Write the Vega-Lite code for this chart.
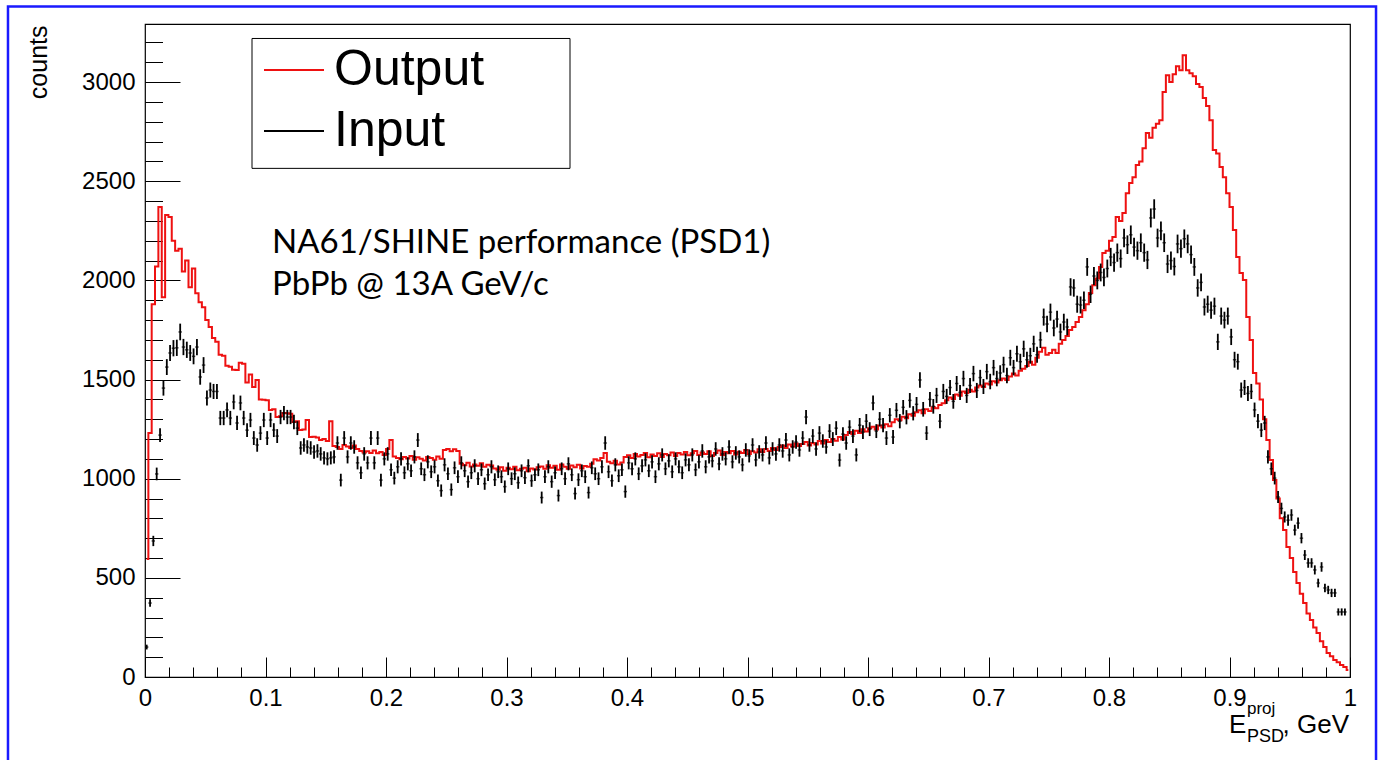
{
"$schema":"https://vega.github.io/schema/vega-lite/v6.json",
"width":1205,"height":653,
"autosize":{"type":"none"},
"padding":{"left":145,"top":24,"right":28,"bottom":83},
"background":"white",
"config":{"view":{"stroke":"#000","strokeWidth":1.2},"font":"Liberation Sans",
"axis":{"labelFont":"Liberation Sans","labelFontSize":24,"labelColor":"#000","tickColor":"#000","tickWidth":1,"domain":false,"grid":false,"titleFont":"Liberation Sans","titleFontWeight":"normal","titleColor":"#000"}},
"data":{"values":[
{"x":0.0014,"o":595,"i":151,"e":12},{"x":0.0042,"o":1230,"i":373,"e":19},{"x":0.0069,"o":1880,"i":686,"e":26},{"x":0.0097,"o":2070,"i":1024,"e":32},{"x":0.0125,"o":2370,"i":1220,"e":35},{"x":0.0153,"o":1915,"i":1457,"e":38},{"x":0.0181,"o":2330,"i":1563,"e":40},{"x":0.0208,"o":2320,"i":1634,"e":40},{"x":0.0236,"o":2200,"i":1658,"e":41},{"x":0.0264,"o":2150,"i":1660,"e":41},{"x":0.0292,"o":2160,"i":1740,"e":42},{"x":0.0319,"o":2045,"i":1664,"e":41},{"x":0.0347,"o":2100,"i":1650,"e":41},{"x":0.0375,"o":1965,"i":1634,"e":40},{"x":0.0403,"o":2060,"i":1617,"e":40},{"x":0.0431,"o":1935,"i":1664,"e":41},{"x":0.0458,"o":1890,"i":1513,"e":39},{"x":0.0486,"o":1865,"i":1573,"e":40},{"x":0.0514,"o":1800,"i":1407,"e":38},{"x":0.0542,"o":1765,"i":1447,"e":38},{"x":0.0569,"o":1710,"i":1440,"e":38},{"x":0.0597,"o":1690,"i":1440,"e":38},{"x":0.0625,"o":1625,"i":1306,"e":36},{"x":0.0653,"o":1620,"i":1306,"e":36},{"x":0.0681,"o":1570,"i":1347,"e":37},{"x":0.0708,"o":1565,"i":1306,"e":36},{"x":0.0736,"o":1550,"i":1387,"e":37},{"x":0.0764,"o":1548,"i":1281,"e":36},{"x":0.0792,"o":1585,"i":1382,"e":37},{"x":0.0819,"o":1580,"i":1306,"e":36},{"x":0.0847,"o":1485,"i":1245,"e":35},{"x":0.0875,"o":1525,"i":1296,"e":36},{"x":0.0903,"o":1462,"i":1205,"e":35},{"x":0.0931,"o":1498,"i":1170,"e":34},{"x":0.0958,"o":1400,"i":1230,"e":35},{"x":0.0986,"o":1398,"i":1296,"e":36},
{"x":0.1014,"o":1395,"i":1205,"e":35},{"x":0.1042,"o":1347,"i":1296,"e":36},{"x":0.1069,"o":1350,"i":1245,"e":35},{"x":0.1097,"o":1311,"i":1215,"e":35},{"x":0.1125,"o":1315,"i":1311,"e":36},{"x":0.1153,"o":1331,"i":1331,"e":36},{"x":0.1181,"o":1330,"i":1311,"e":36},{"x":0.1208,"o":1328,"i":1311,"e":36},{"x":0.1236,"o":1286,"i":1286,"e":36},{"x":0.1264,"o":1290,"i":1255,"e":35},{"x":0.1292,"o":1245,"i":1155,"e":34},{"x":0.1319,"o":1248,"i":1170,"e":34},{"x":0.1347,"o":1296,"i":1160,"e":34},{"x":0.1375,"o":1210,"i":1155,"e":34},{"x":0.1403,"o":1212,"i":1135,"e":34},{"x":0.1431,"o":1208,"i":1140,"e":34},{"x":0.1458,"o":1195,"i":1125,"e":34},{"x":0.1486,"o":1200,"i":1105,"e":33},{"x":0.1514,"o":1190,"i":1100,"e":33},{"x":0.1542,"o":1290,"i":1105,"e":33},{"x":0.1569,"o":1165,"i":1110,"e":33},{"x":0.1597,"o":1160,"i":1180,"e":34},{"x":0.1625,"o":1150,"i":993,"e":32},{"x":0.1653,"o":1170,"i":1205,"e":35},{"x":0.1681,"o":1162,"i":1110,"e":33},{"x":0.1708,"o":1155,"i":1180,"e":34},{"x":0.1736,"o":1168,"i":1160,"e":34},{"x":0.1764,"o":1150,"i":1080,"e":33},{"x":0.1792,"o":1140,"i":1030,"e":32},{"x":0.1819,"o":1132,"i":1125,"e":34},{"x":0.1847,"o":1138,"i":1080,"e":33},{"x":0.1875,"o":1130,"i":1205,"e":35},{"x":0.1903,"o":1142,"i":1080,"e":33},{"x":0.1931,"o":1128,"i":1205,"e":35},{"x":0.1958,"o":1135,"i":993,"e":32},{"x":0.1986,"o":1120,"i":1100,"e":33},
{"x":0.2014,"o":1150,"i":1125,"e":34},{"x":0.2042,"o":1195,"i":1045,"e":32},{"x":0.2069,"o":1112,"i":1003,"e":32},{"x":0.2097,"o":1105,"i":1060,"e":33},{"x":0.2125,"o":1098,"i":1100,"e":33},{"x":0.2153,"o":1110,"i":1030,"e":32},{"x":0.2181,"o":1102,"i":1075,"e":33},{"x":0.2208,"o":1115,"i":1040,"e":32},{"x":0.2236,"o":1095,"i":1110,"e":33},{"x":0.2264,"o":1108,"i":1195,"e":35},{"x":0.2292,"o":1100,"i":1050,"e":32},{"x":0.2319,"o":1092,"i":1020,"e":32},{"x":0.2347,"o":1110,"i":1085,"e":33},{"x":0.2375,"o":1104,"i":1035,"e":32},{"x":0.2403,"o":1096,"i":1060,"e":33},{"x":0.2431,"o":1112,"i":990,"e":31},{"x":0.2458,"o":1100,"i":940,"e":31},{"x":0.2486,"o":1145,"i":1070,"e":33},{"x":0.2514,"o":1150,"i":1025,"e":32},{"x":0.2542,"o":1138,"i":945,"e":31},{"x":0.2569,"o":1148,"i":1055,"e":32},{"x":0.2597,"o":1140,"i":1010,"e":32},{"x":0.2625,"o":1075,"i":1080,"e":33},{"x":0.2653,"o":1068,"i":1040,"e":32},{"x":0.2681,"o":1080,"i":985,"e":31},{"x":0.2708,"o":1062,"i":1030,"e":32},{"x":0.2736,"o":1072,"i":1065,"e":33},{"x":0.2764,"o":1065,"i":1000,"e":32},{"x":0.2792,"o":1078,"i":1045,"e":32},{"x":0.2819,"o":1060,"i":975,"e":31},{"x":0.2847,"o":1070,"i":1020,"e":32},{"x":0.2875,"o":1066,"i":1060,"e":33},{"x":0.2903,"o":1052,"i":995,"e":32},{"x":0.2931,"o":1045,"i":1035,"e":32},{"x":0.2958,"o":1058,"i":1010,"e":32},{"x":0.2986,"o":1040,"i":960,"e":31},
{"x":0.3014,"o":1055,"i":1050,"e":32},{"x":0.3042,"o":1048,"i":1000,"e":32},{"x":0.3069,"o":1060,"i":1025,"e":32},{"x":0.3097,"o":1042,"i":980,"e":31},{"x":0.3125,"o":1050,"i":1040,"e":32},{"x":0.3153,"o":1055,"i":1005,"e":32},{"x":0.3181,"o":1038,"i":1065,"e":33},{"x":0.3208,"o":1052,"i":990,"e":31},{"x":0.3236,"o":1046,"i":1020,"e":32},{"x":0.3264,"o":1058,"i":1045,"e":32},{"x":0.3292,"o":1062,"i":905,"e":30},{"x":0.3319,"o":1050,"i":1010,"e":32},{"x":0.3347,"o":1068,"i":1060,"e":33},{"x":0.3375,"o":1055,"i":985,"e":31},{"x":0.3403,"o":1065,"i":1030,"e":32},{"x":0.3431,"o":1045,"i":915,"e":30},{"x":0.3458,"o":1072,"i":1050,"e":32},{"x":0.3486,"o":1060,"i":1000,"e":32},{"x":0.3514,"o":1050,"i":1075,"e":33},{"x":0.3542,"o":1066,"i":1020,"e":32},{"x":0.3569,"o":1058,"i":925,"e":30},{"x":0.3597,"o":1070,"i":995,"e":32},{"x":0.3625,"o":1052,"i":1040,"e":32},{"x":0.3653,"o":1064,"i":1010,"e":32},{"x":0.3681,"o":1060,"i":930,"e":30},{"x":0.3708,"o":1075,"i":1055,"e":32},{"x":0.3736,"o":1098,"i":1025,"e":32},{"x":0.3764,"o":1092,"i":1000,"e":32},{"x":0.3792,"o":1104,"i":1060,"e":33},{"x":0.3819,"o":1130,"i":1180,"e":34},{"x":0.3847,"o":1085,"i":1035,"e":32},{"x":0.3875,"o":1078,"i":990,"e":31},{"x":0.3903,"o":1090,"i":1070,"e":33},{"x":0.3931,"o":1072,"i":1015,"e":32},{"x":0.3958,"o":1082,"i":1045,"e":32},{"x":0.3986,"o":1110,"i":935,"e":31},
{"x":0.4014,"o":1118,"i":1080,"e":33},{"x":0.4042,"o":1105,"i":1050,"e":32},{"x":0.4069,"o":1125,"i":1100,"e":33},{"x":0.4097,"o":1112,"i":1025,"e":32},{"x":0.4125,"o":1120,"i":1065,"e":33},{"x":0.4153,"o":1130,"i":1095,"e":33},{"x":0.4181,"o":1108,"i":1040,"e":32},{"x":0.4208,"o":1122,"i":1085,"e":33},{"x":0.4236,"o":1115,"i":1010,"e":32},{"x":0.4264,"o":1128,"i":1075,"e":33},{"x":0.4292,"o":1110,"i":1120,"e":33},{"x":0.4319,"o":1124,"i":1050,"e":32},{"x":0.4347,"o":1118,"i":1090,"e":33},{"x":0.4375,"o":1132,"i":1035,"e":32},{"x":0.4403,"o":1115,"i":1100,"e":33},{"x":0.4431,"o":1130,"i":1060,"e":33},{"x":0.4458,"o":1122,"i":1030,"e":32},{"x":0.4486,"o":1135,"i":1095,"e":33},{"x":0.4514,"o":1118,"i":1070,"e":33},{"x":0.4542,"o":1128,"i":1120,"e":33},{"x":0.4569,"o":1140,"i":1045,"e":32},{"x":0.4597,"o":1120,"i":1085,"e":33},{"x":0.4625,"o":1132,"i":1140,"e":34},{"x":0.4653,"o":1125,"i":1060,"e":33},{"x":0.4681,"o":1138,"i":1110,"e":33},{"x":0.4708,"o":1115,"i":1090,"e":33},{"x":0.4736,"o":1130,"i":1150,"e":34},{"x":0.4764,"o":1142,"i":1075,"e":33},{"x":0.4792,"o":1120,"i":1125,"e":34},{"x":0.4819,"o":1135,"i":1100,"e":33},{"x":0.4847,"o":1128,"i":1160,"e":34},{"x":0.4875,"o":1140,"i":1085,"e":33},{"x":0.4903,"o":1122,"i":1130,"e":34},{"x":0.4931,"o":1136,"i":1110,"e":33},{"x":0.4958,"o":1130,"i":1070,"e":33},{"x":0.4986,"o":1145,"i":1145,"e":34},
{"x":0.5014,"o":1125,"i":1115,"e":33},{"x":0.5042,"o":1138,"i":1170,"e":34},{"x":0.5069,"o":1132,"i":1095,"e":33},{"x":0.5097,"o":1148,"i":1135,"e":34},{"x":0.5125,"o":1135,"i":1120,"e":33},{"x":0.5153,"o":1150,"i":1180,"e":34},{"x":0.5181,"o":1140,"i":1105,"e":33},{"x":0.5208,"o":1155,"i":1150,"e":34},{"x":0.5236,"o":1145,"i":1125,"e":34},{"x":0.5264,"o":1160,"i":1170,"e":34},{"x":0.5292,"o":1168,"i":1140,"e":34},{"x":0.5319,"o":1155,"i":1195,"e":35},{"x":0.5347,"o":1172,"i":1120,"e":33},{"x":0.5375,"o":1162,"i":1160,"e":34},{"x":0.5403,"o":1178,"i":1185,"e":34},{"x":0.5431,"o":1165,"i":1145,"e":34},{"x":0.5458,"o":1175,"i":1205,"e":35},{"x":0.5486,"o":1185,"i":1311,"e":36},{"x":0.5514,"o":1168,"i":1170,"e":34},{"x":0.5542,"o":1180,"i":1215,"e":35},{"x":0.5569,"o":1172,"i":1150,"e":34},{"x":0.5597,"o":1190,"i":1230,"e":35},{"x":0.5625,"o":1178,"i":1190,"e":34},{"x":0.5653,"o":1195,"i":1160,"e":34},{"x":0.5681,"o":1185,"i":1240,"e":35},{"x":0.5708,"o":1200,"i":1200,"e":35},{"x":0.5736,"o":1192,"i":1255,"e":35},{"x":0.5764,"o":1210,"i":1094,"e":33},{"x":0.5792,"o":1198,"i":1225,"e":35},{"x":0.5819,"o":1220,"i":1180,"e":34},{"x":0.5847,"o":1235,"i":1260,"e":35},{"x":0.5875,"o":1225,"i":1215,"e":35},{"x":0.5903,"o":1242,"i":1120,"e":33},{"x":0.5931,"o":1230,"i":1270,"e":36},{"x":0.5958,"o":1250,"i":1235,"e":35},{"x":0.5986,"o":1238,"i":1290,"e":36},
{"x":0.6014,"o":1255,"i":1250,"e":35},{"x":0.6042,"o":1262,"i":1382,"e":37},{"x":0.6069,"o":1248,"i":1240,"e":35},{"x":0.6097,"o":1268,"i":1300,"e":36},{"x":0.6125,"o":1258,"i":1270,"e":36},{"x":0.6153,"o":1275,"i":1205,"e":35},{"x":0.6181,"o":1265,"i":1320,"e":36},{"x":0.6208,"o":1285,"i":1210,"e":35},{"x":0.6236,"o":1300,"i":1345,"e":37},{"x":0.6264,"o":1295,"i":1290,"e":36},{"x":0.6292,"o":1312,"i":1360,"e":37},{"x":0.6319,"o":1305,"i":1310,"e":36},{"x":0.6347,"o":1325,"i":1395,"e":37},{"x":0.6375,"o":1318,"i":1330,"e":36},{"x":0.6403,"o":1335,"i":1375,"e":37},{"x":0.6431,"o":1345,"i":1498,"e":39},{"x":0.6458,"o":1330,"i":1350,"e":37},{"x":0.6486,"o":1350,"i":1230,"e":35},{"x":0.6514,"o":1342,"i":1400,"e":37},{"x":0.6542,"o":1360,"i":1365,"e":37},{"x":0.6569,"o":1355,"i":1420,"e":38},{"x":0.6597,"o":1372,"i":1290,"e":36},{"x":0.6625,"o":1380,"i":1440,"e":38},{"x":0.6653,"o":1395,"i":1415,"e":38},{"x":0.6681,"o":1410,"i":1460,"e":38},{"x":0.6708,"o":1402,"i":1390,"e":37},{"x":0.6736,"o":1425,"i":1480,"e":38},{"x":0.6764,"o":1418,"i":1435,"e":38},{"x":0.6792,"o":1440,"i":1505,"e":39},{"x":0.6819,"o":1432,"i":1420,"e":38},{"x":0.6847,"o":1448,"i":1470,"e":38},{"x":0.6875,"o":1440,"i":1530,"e":39},{"x":0.6903,"o":1460,"i":1445,"e":38},{"x":0.6931,"o":1470,"i":1510,"e":39},{"x":0.6958,"o":1462,"i":1465,"e":38},{"x":0.6986,"o":1480,"i":1540,"e":39},
{"x":0.7014,"o":1475,"i":1490,"e":39},{"x":0.7042,"o":1492,"i":1560,"e":39},{"x":0.7069,"o":1485,"i":1505,"e":39},{"x":0.7097,"o":1497,"i":1533,"e":39},{"x":0.7125,"o":1505,"i":1575,"e":40},{"x":0.7153,"o":1498,"i":1520,"e":39},{"x":0.7181,"o":1515,"i":1610,"e":40},{"x":0.7208,"o":1530,"i":1560,"e":39},{"x":0.7236,"o":1520,"i":1630,"e":40},{"x":0.7264,"o":1545,"i":1590,"e":40},{"x":0.7292,"o":1555,"i":1655,"e":41},{"x":0.7319,"o":1568,"i":1600,"e":40},{"x":0.7347,"o":1590,"i":1620,"e":40},{"x":0.7375,"o":1575,"i":1680,"e":41},{"x":0.7403,"o":1610,"i":1625,"e":40},{"x":0.7431,"o":1640,"i":1700,"e":41},{"x":0.7458,"o":1660,"i":1815,"e":43},{"x":0.7486,"o":1625,"i":1780,"e":42},{"x":0.7514,"o":1634,"i":1840,"e":43},{"x":0.7542,"o":1650,"i":1760,"e":42},{"x":0.7569,"o":1634,"i":1805,"e":42},{"x":0.7597,"o":1680,"i":1740,"e":42},{"x":0.7625,"o":1700,"i":1790,"e":42},{"x":0.7653,"o":1720,"i":1765,"e":42},{"x":0.7681,"o":1750,"i":1967,"e":44},{"x":0.7708,"o":1765,"i":1962,"e":44},{"x":0.7736,"o":1790,"i":1880,"e":43},{"x":0.7764,"o":1815,"i":1876,"e":43},{"x":0.7792,"o":1850,"i":1900,"e":44},{"x":0.7819,"o":1880,"i":2068,"e":45},{"x":0.7847,"o":1936,"i":1930,"e":44},{"x":0.7875,"o":1975,"i":2022,"e":45},{"x":0.7903,"o":2010,"i":2000,"e":45},{"x":0.7931,"o":2068,"i":2040,"e":45},{"x":0.7958,"o":2138,"i":2015,"e":45},{"x":0.7986,"o":2150,"i":2060,"e":45},
{"x":0.8014,"o":2200,"i":2118,"e":46},{"x":0.8042,"o":2219,"i":2090,"e":46},{"x":0.8069,"o":2320,"i":2140,"e":46},{"x":0.8097,"o":2300,"i":2110,"e":46},{"x":0.8125,"o":2340,"i":2214,"e":47},{"x":0.8153,"o":2440,"i":2180,"e":47},{"x":0.8181,"o":2491,"i":2230,"e":47},{"x":0.8208,"o":2520,"i":2168,"e":47},{"x":0.8236,"o":2582,"i":2150,"e":46},{"x":0.8264,"o":2600,"i":2190,"e":47},{"x":0.8292,"o":2667,"i":2140,"e":46},{"x":0.8319,"o":2743,"i":2103,"e":46},{"x":0.8347,"o":2720,"i":2315,"e":48},{"x":0.8375,"o":2770,"i":2360,"e":49},{"x":0.8403,"o":2790,"i":2214,"e":47},{"x":0.8431,"o":2808,"i":2250,"e":47},{"x":0.8458,"o":2950,"i":2190,"e":47},{"x":0.8486,"o":3035,"i":2083,"e":46},{"x":0.8514,"o":3000,"i":2100,"e":46},{"x":0.8542,"o":3040,"i":2070,"e":45},{"x":0.8569,"o":3080,"i":2184,"e":47},{"x":0.8597,"o":3060,"i":2160,"e":46},{"x":0.8625,"o":3136,"i":2210,"e":47},{"x":0.8653,"o":3060,"i":2184,"e":47},{"x":0.8681,"o":3045,"i":2130,"e":46},{"x":0.8708,"o":3030,"i":2068,"e":45},{"x":0.8736,"o":2990,"i":1962,"e":44},{"x":0.8764,"o":2975,"i":1990,"e":45},{"x":0.8792,"o":2920,"i":1866,"e":43},{"x":0.8819,"o":2880,"i":1880,"e":43},{"x":0.8847,"o":2808,"i":1850,"e":43},{"x":0.8875,"o":2657,"i":1870,"e":43},{"x":0.8903,"o":2640,"i":1690,"e":41},{"x":0.8931,"o":2572,"i":1820,"e":43},{"x":0.8958,"o":2520,"i":1800,"e":42},{"x":0.8986,"o":2440,"i":1820,"e":43},
{"x":0.9014,"o":2370,"i":1715,"e":41},{"x":0.9042,"o":2254,"i":1600,"e":40},{"x":0.9069,"o":2118,"i":1590,"e":40},{"x":0.9097,"o":2037,"i":1447,"e":38},{"x":0.9125,"o":2002,"i":1460,"e":38},{"x":0.9153,"o":1815,"i":1430,"e":38},{"x":0.9181,"o":1700,"i":1440,"e":38},{"x":0.9208,"o":1533,"i":1347,"e":37},{"x":0.9236,"o":1480,"i":1290,"e":36},{"x":0.9264,"o":1400,"i":1245,"e":35},{"x":0.9292,"o":1300,"i":1281,"e":36},{"x":0.9319,"o":1195,"i":1110,"e":33},{"x":0.9347,"o":1094,"i":1050,"e":32},{"x":0.9375,"o":993,"i":1003,"e":32},{"x":0.9403,"o":900,"i":908,"e":30},{"x":0.9431,"o":800,"i":850,"e":29},{"x":0.9458,"o":741,"i":807,"e":28},{"x":0.9486,"o":655,"i":791,"e":28},{"x":0.9514,"o":600,"i":817,"e":29},{"x":0.9542,"o":530,"i":741,"e":27},{"x":0.9569,"o":474,"i":776,"e":28},{"x":0.9597,"o":420,"i":700,"e":26},{"x":0.9625,"o":373,"i":615,"e":25},{"x":0.9653,"o":320,"i":575,"e":24},{"x":0.9681,"o":287,"i":575,"e":24},{"x":0.9708,"o":250,"i":540,"e":23},{"x":0.9736,"o":222,"i":474,"e":22},{"x":0.9764,"o":180,"i":555,"e":24},{"x":0.9792,"o":151,"i":449,"e":21},{"x":0.9819,"o":121,"i":439,"e":21},{"x":0.9847,"o":105,"i":424,"e":21},{"x":0.9875,"o":86,"i":424,"e":21},{"x":0.9903,"o":75,"i":328,"e":18},{"x":0.9931,"o":60,"i":328,"e":18},{"x":0.9958,"o":50,"i":328,"e":18},{"x":0.9986,"o":35}
]},
"resolve":{"axis":{"x":"independent","y":"independent"}},
"layer":[
{"data":{"values":[{}]},"mark":{"type":"rect","fill":"transparent","stroke":"#1a1aff","strokeWidth":2.5},
"encoding":{"x":{"datum":-0.1137,"type":"quantitative","axis":null},"x2":{"datum":1.0216},"y":{"datum":3381,"type":"quantitative","axis":null},"y2":{"datum":-520}}},
{"data":{"values":[{}]},"mark":{"type":"rect","fill":"white","stroke":"#000","strokeWidth":1},
"encoding":{"x":{"datum":0.0888,"type":"quantitative","axis":null},"x2":{"datum":0.3527},"y":{"datum":3220,"type":"quantitative","axis":null},"y2":{"datum":2565}}},
{"mark":{"type":"line","interpolate":"step","strokeWidth":2},
"encoding":{
"x":{"field":"x","type":"quantitative","scale":{"domain":[0,1],"nice":false,"zero":false},
"axis":{"orient":"bottom","values":[0,0.1,0.2,0.3,0.4,0.5,0.6,0.7,0.8,0.9,1],"format":"~g","tickSize":-20,"labelPadding":29,"labelFlush":false,"labelOverlap":false,"title":null}},
"y":{"field":"o","type":"quantitative","scale":{"domain":[0,3293],"nice":false,"zero":false},
"axis":{"orient":"left","values":[0,500,1000,1500,2000,2500,3000],"format":"d","tickSize":-35,"labelPadding":45,"labelOverlap":false,"title":"counts","titleFontSize":25,"titleAngle":270,"titleAlign":"right","titleBaseline":"alphabetic","titleX":-99,"titleY":1}},
"color":{"datum":"Output","type":"nominal","scale":{"domain":["Output","Input"],"range":["#ee1111","#000000"]},
"legend":{"orient":"none","legendX":118,"legendY":15,"title":null,"symbolType":"stroke","symbolSize":3600,"symbolStrokeWidth":2,"labelFont":"Liberation Sans","labelFontSize":50,"labelColor":"#000","labelOffset":9,"rowPadding":5,"padding":0,"labelLimit":500}}}},
{"mark":{"type":"errorbar","color":"#000","thickness":1.8},
"encoding":{"x":{"field":"x","type":"quantitative","axis":null},"y":{"field":"i","type":"quantitative","axis":null},"yError":{"field":"e"}}},
{"mark":{"type":"tick","orient":"horizontal","size":3.4,"thickness":1.5,"color":"#000"},
"encoding":{
"x":{"field":"x","type":"quantitative","axis":{"orient":"bottom","values":[0.02,0.04,0.06,0.08,0.12,0.14,0.16,0.18,0.22,0.24,0.26,0.28,0.32,0.34,0.36,0.38,0.42,0.44,0.46,0.48,0.52,0.54,0.56,0.58,0.62,0.64,0.66,0.68,0.72,0.74,0.76,0.78,0.82,0.84,0.86,0.88,0.92,0.94,0.96,0.98],"tickSize":-10,"labels":false,"title":null}},
"y":{"field":"i","type":"quantitative","axis":{"orient":"left","values":[100,200,300,400,600,700,800,900,1100,1200,1300,1400,1600,1700,1800,1900,2100,2200,2300,2400,2600,2700,2800,2900,3100,3200],"tickSize":-17.5,"labels":false,"title":null}}}},
{"data":{"values":[{}]},"mark":{"type":"text","text":["NA61/SHINE performance (PSD1)","PbPb @ 13A GeV/c"],"font":"Lato","fontSize":33,"align":"left","baseline":"alphabetic","lineHeight":42,"color":"#000"},
"encoding":{"x":{"datum":0.1054,"type":"quantitative","axis":null},"y":{"datum":2138,"type":"quantitative","axis":null}}},
{"data":{"values":[{}]},"mark":{"type":"text","text":"E","font":"Liberation Sans","fontSize":26,"align":"left","baseline":"alphabetic","color":"#000"},
"encoding":{"x":{"datum":0.8996,"type":"quantitative","axis":null},"y":{"datum":-282,"type":"quantitative","axis":null}}},
{"data":{"values":[{}]},"mark":{"type":"text","text":"proj","font":"Liberation Sans","fontSize":17,"align":"left","baseline":"alphabetic","color":"#000"},
"encoding":{"x":{"datum":0.9145,"type":"quantitative","axis":null},"y":{"datum":-187,"type":"quantitative","axis":null}}},
{"data":{"values":[{}]},"mark":{"type":"text","text":"PSD","font":"Liberation Sans","fontSize":18,"align":"left","baseline":"alphabetic","color":"#000"},
"encoding":{"x":{"datum":0.9145,"type":"quantitative","axis":null},"y":{"datum":-328,"type":"quantitative","axis":null}}},
{"data":{"values":[{}]},"mark":{"type":"text","text":", GeV","font":"Liberation Sans","fontSize":26,"align":"right","baseline":"alphabetic","color":"#000"},
"encoding":{"x":{"datum":0.9992,"type":"quantitative","axis":null},"y":{"datum":-282,"type":"quantitative","axis":null}}}
]
}
